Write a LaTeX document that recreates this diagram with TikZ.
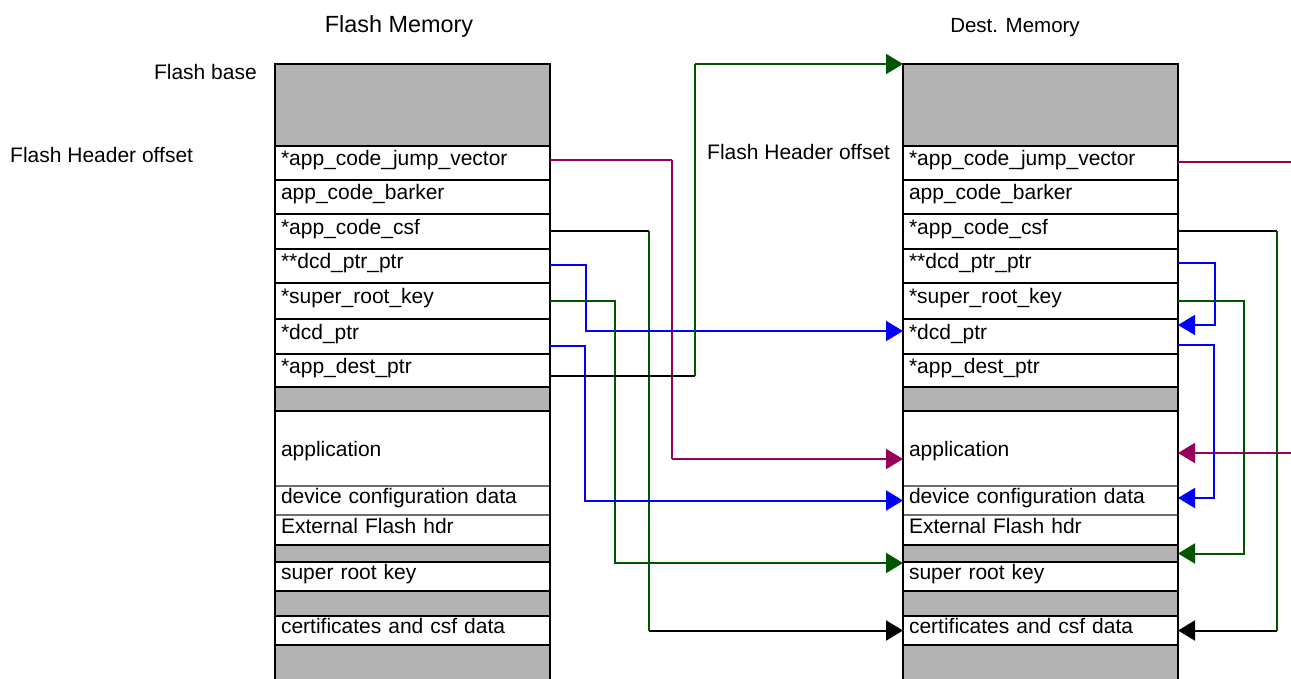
\documentclass[tikz,border=0pt]{standalone}
\usepackage{fontspec}
\setmainfont{Liberation Sans}
\usetikzlibrary{positioning,arrows.meta}
\definecolor{cellgray}{RGB}{179,179,179}
\definecolor{sepgray}{RGB}{110,110,110}
\definecolor{ptrmag}{RGB}{150,0,90}
\definecolor{ptrgreen}{RGB}{0,85,0}
\definecolor{ptrblue}{RGB}{0,0,255}

\begin{document}
\begin{tikzpicture}[x=1pt,y=-1pt]
\tikzstyle{cell}=[rectangle, draw=black, line width=2.5pt, outer sep=0pt, inner xsep=6pt, inner ysep=1pt, text width=263pt, align=left, text height=15pt, text depth=9pt, font=\fontsize{21}{25}\selectfont]
\tikzstyle{blank}=[cell, fill=cellgray, text height=0pt, text depth=0pt]
\tikzstyle{label}=[inner sep=0pt, font=\fontsize{21}{25}\selectfont]
\tikzstyle{lead}=[line width=2pt]
\tikzstyle{connect}=[lead, -{Triangle[length=17pt,width=20pt]}]
\tikzstyle{softsep}=[draw=white, double=sepgray, double distance=1.2pt, line width=0.7pt, shorten <=1.3pt, shorten >=1.3pt]
\useasboundingbox (0,0) rectangle (1291,679);
\clip (0,0) rectangle (1291,679);
  % titles and side labels
  \node[label, anchor=base, font=\fontsize{23.4}{28}\selectfont] (flashtitle) at (399,33) {Flash Memory};
  \node[label, anchor=base, font=\fontsize{20.5}{25}\selectfont] (desttitle) at (1015,33) {Dest. Memory};
  \node[label, anchor=base east] (flashbase) at (257,80) {Flash base};
  \node[label, anchor=base west] (hdroffL) at (10,163) {Flash Header offset};
  \node[label, anchor=base west] (hdroffR) at (707,160) {Flash Header offset};
  % flash memory map
  \node[blank, minimum height=82pt, anchor=north west] (hdrL) at (275,64) {};
  \node[cell, minimum height=34pt, below=0pt of hdrL] (jumpL) {*app\_code\_jump\_vector};
  \node[cell, minimum height=34pt, below=0pt of jumpL] (barkL) {app\_code\_barker};
  \node[cell, minimum height=35pt, below=0pt of barkL] (csfL) {*app\_code\_csf};
  \node[cell, minimum height=34pt, below=0pt of csfL] (dppL) {**dcd\_ptr\_ptr};
  \node[cell, minimum height=36pt, below=0pt of dppL] (srkL) {*super\_root\_key};
  \node[cell, minimum height=35pt, below=0pt of srkL] (dcdL) {*dcd\_ptr};
  \node[cell, minimum height=33pt, below=0pt of dcdL] (destL) {*app\_dest\_ptr};
  \node[blank, minimum height=24pt, below=0pt of destL] (gapaL) {};
  \node[cell, minimum height=75pt, text depth=0pt, below=0pt of gapaL] (appL) {application};
  \node[cell, minimum height=29pt, below=0pt of appL] (dcfgL) {device configuration data};
  \node[cell, minimum height=30pt, below=0pt of dcfgL] (extL) {External Flash hdr};
  \node[blank, minimum height=17pt, below=0pt of extL] (gapbL) {};
  \node[cell, minimum height=29pt, below=0pt of gapbL] (keyL) {super root key};
  \node[blank, minimum height=25pt, below=0pt of keyL] (gapcL) {};
  \node[cell, minimum height=29pt, below=0pt of gapcL] (certL) {certificates and csf data};
  \node[blank, minimum height=55pt, below=0pt of certL] (gapdL) {};
  % destination memory map
  \node[blank, minimum height=82pt, anchor=north west] (hdrR) at (903,64) {};
  \node[cell, minimum height=34pt, below=0pt of hdrR] (jumpR) {*app\_code\_jump\_vector};
  \node[cell, minimum height=34pt, below=0pt of jumpR] (barkR) {app\_code\_barker};
  \node[cell, minimum height=35pt, below=0pt of barkR] (csfR) {*app\_code\_csf};
  \node[cell, minimum height=34pt, below=0pt of csfR] (dppR) {**dcd\_ptr\_ptr};
  \node[cell, minimum height=36pt, below=0pt of dppR] (srkR) {*super\_root\_key};
  \node[cell, minimum height=35pt, below=0pt of srkR] (dcdR) {*dcd\_ptr};
  \node[cell, minimum height=33pt, below=0pt of dcdR] (destR) {*app\_dest\_ptr};
  \node[blank, minimum height=24pt, below=0pt of destR] (gapaR) {};
  \node[cell, minimum height=75pt, text depth=0pt, below=0pt of gapaR] (appR) {application};
  \node[cell, minimum height=29pt, below=0pt of appR] (dcfgR) {device configuration data};
  \node[cell, minimum height=30pt, below=0pt of dcfgR] (extR) {External Flash hdr};
  \node[blank, minimum height=17pt, below=0pt of extR] (gapbR) {};
  \node[cell, minimum height=29pt, below=0pt of gapbR] (keyR) {super root key};
  \node[blank, minimum height=25pt, below=0pt of keyR] (gapcR) {};
  \node[cell, minimum height=29pt, below=0pt of gapcR] (certR) {certificates and csf data};
  \node[blank, minimum height=55pt, below=0pt of certR] (gapdR) {};
  % thin grey dividers
  \draw[softsep] (appL.south west) -- (appL.south east);
  \draw[softsep] (dcfgL.south west) -- (dcfgL.south east);
  \draw[softsep] (appR.south west) -- (appR.south east);
  \draw[softsep] (dcfgR.south west) -- (dcfgR.south east);
  % pointers from flash to dest
  \draw[lead, ptrmag] ([yshift=3pt]jumpL.east) -- (672,160);
  \draw[ptrmag, line width=1.2pt] (672,160) -- (672,459);
  \draw[connect, ptrmag] (672,459) -- ([yshift=-10.5pt]appR.west);
  \draw[lead] (csfL.east) -- (649,231.5);
  \draw[lead, ptrgreen] (649,231.5) -- (649,630.5);
  \draw[connect] (649,630.5) -- (certR.west);
  \draw[connect, ptrblue] ([yshift=1pt]dppL.east) -| (586,331) -- ([yshift=5.5pt]dcdR.west);
  \draw[connect, ptrgreen] (srkL.east) -| (615,563) -- ([yshift=-1pt]keyR.north west);
  \draw[connect, ptrblue] ([yshift=-9.5pt]dcdL.east) -| (585,500.5) -- (dcfgR.west);
  \draw[lead] ([yshift=-5.5pt]destL.east) -- (695,376);
  \draw[lead, ptrgreen] (695,376) -- (695,64);
  \draw[connect, ptrgreen] (695,64) -- (hdrR.north west);
  % pointers inside dest
  \coordinate (jumpout) at (1291,162);
  \coordinate (appin) at (1291,453);
  \draw[lead, ptrmag] ([yshift=1pt]jumpR.east) -- (jumpout);
  \draw[connect, ptrmag] (appin) -- ([yshift=-4.5pt]appR.east);
  \draw[lead] (csfR.east) -- (1277,231.5);
  \draw[lead, ptrgreen] (1277,231.5) -- (1277,630.5);
  \draw[connect] (1277,630.5) -- (certR.east);
  \draw[connect, ptrblue] ([yshift=3pt]dppR.east) -| (1215,325) -- ([yshift=11.5pt]dcdR.east);
  \draw[connect, ptrgreen] (srkR.east) -| (1244,553.5) -- (gapbR.east);
  \draw[connect, ptrblue] ([yshift=-8.5pt]dcdR.east) -| (1214,498) -- ([yshift=2.5pt]dcfgR.east);
\end{tikzpicture}
\end{document}
